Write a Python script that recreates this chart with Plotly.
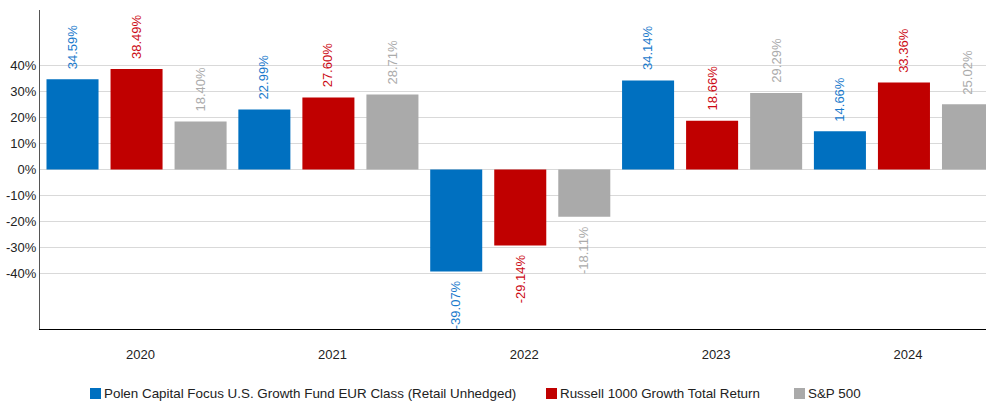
import plotly.graph_objects as go

years = ["2020", "2021", "2022", "2023", "2024"]
series_names = [
    "Polen Capital Focus U.S. Growth Fund EUR Class (Retail Unhedged)",
    "Russell 1000 Growth Total Return",
    "S&P 500",
]
polen = [34.59, 22.99, -39.07, 34.14, 14.66]
russell = [38.49, 27.60, -29.14, 18.66, 33.36]
sp500 = [18.40, 28.71, -18.11, 29.29, 25.02]
values = [polen, russell, sp500]

y_ticks = [-40, -30, -20, -10, 0, 10, 20, 30, 40]
y_ticktext = [f"{v}%" for v in y_ticks]

bar_colors = ["#0070c0", "#c00000", "#aaaaaa"]
label_colors = ["#1a7acc", "#cc0a14", "#ababab"]

FONT = "Liberation Sans, Arial, sans-serif"
W, H = 986, 401
ML, MR, MT, MB = 40, 0, 10, 72
band = 191.75
bar_w_px = 52
# left edge of each bar relative to the category tick, in pixels
bar_left_px = [-94, -30, 34]

fig = go.Figure()
for i, (name, vals) in enumerate(zip(series_names, values)):
    fig.add_trace(go.Bar(
        x=years, y=vals, name=name,
        marker=dict(color=bar_colors[i], line=dict(width=0)),
        width=bar_w_px / band,
        offset=bar_left_px[i] / band,
        showlegend=False,
        hoverinfo="x+y+name",
    ))
    for j, v in enumerate(vals):
        fig.add_annotation(
            x=j, y=v, xref="x", yref="y",
            text=f"{v:.2f}%", showarrow=False, textangle=-90,
            xshift=bar_left_px[i] + bar_w_px / 2,
            yshift=8 if v >= 0 else -7,
            yanchor="bottom" if v >= 0 else "top",
            xanchor="center",
            font=dict(family=FONT, size=13, color=label_colors[i]),
        )

# custom legend
pw = W - ML - MR
ph = H - MT - MB
sq_left = [90, 546, 794]
for i, name in enumerate(series_names):
    x0 = sq_left[i]
    fig.add_shape(
        type="rect", xref="paper", yref="paper",
        x0=(x0 - ML) / pw, x1=(x0 + 11 - ML) / pw,
        y0=(H - MB - 399) / ph, y1=(H - MB - 388) / ph,
        fillcolor=bar_colors[i], line=dict(width=0),
    )
    fig.add_annotation(
        xref="paper", yref="paper",
        x=(x0 + 12 - ML) / pw, y=(H - MB - 393.5) / ph,
        text=name, showarrow=False, xanchor="left", yanchor="middle",
        font=dict(family=FONT, size=13.4, color="#222222"),
    )

fig.update_layout(
    width=W, height=H,
    margin=dict(l=ML, r=MR, t=MT, b=MB, pad=0),
    barmode="overlay",
    plot_bgcolor="white", paper_bgcolor="white",
    font=dict(family=FONT, size=13, color="#222222"),
    showlegend=False,
)
fig.update_xaxes(
    type="category",
    range=[(40.5 - 141) / band, (986 - 141) / band],
    showgrid=False, zeroline=False,
    showline=True, linecolor="#000000", linewidth=1,
    ticks="", ticklabelstandoff=13,
    tickfont=dict(family=FONT, size=13, color="#222222"),
    fixedrange=True,
)
fig.update_yaxes(
    range=[-61.1, 61.1],
    tickvals=y_ticks, ticktext=y_ticktext,
    showgrid=True, gridcolor="#d9d9d9", gridwidth=1,
    zeroline=False,
    showline=True, linecolor="#555555", linewidth=1.3,
    ticks="", tickfont=dict(family=FONT, size=13, color="#222222"),
    fixedrange=True,
)

fig.write_html("out.html", config={"displayModeBar": False},
               post_script="document.body.style.margin='0';")
